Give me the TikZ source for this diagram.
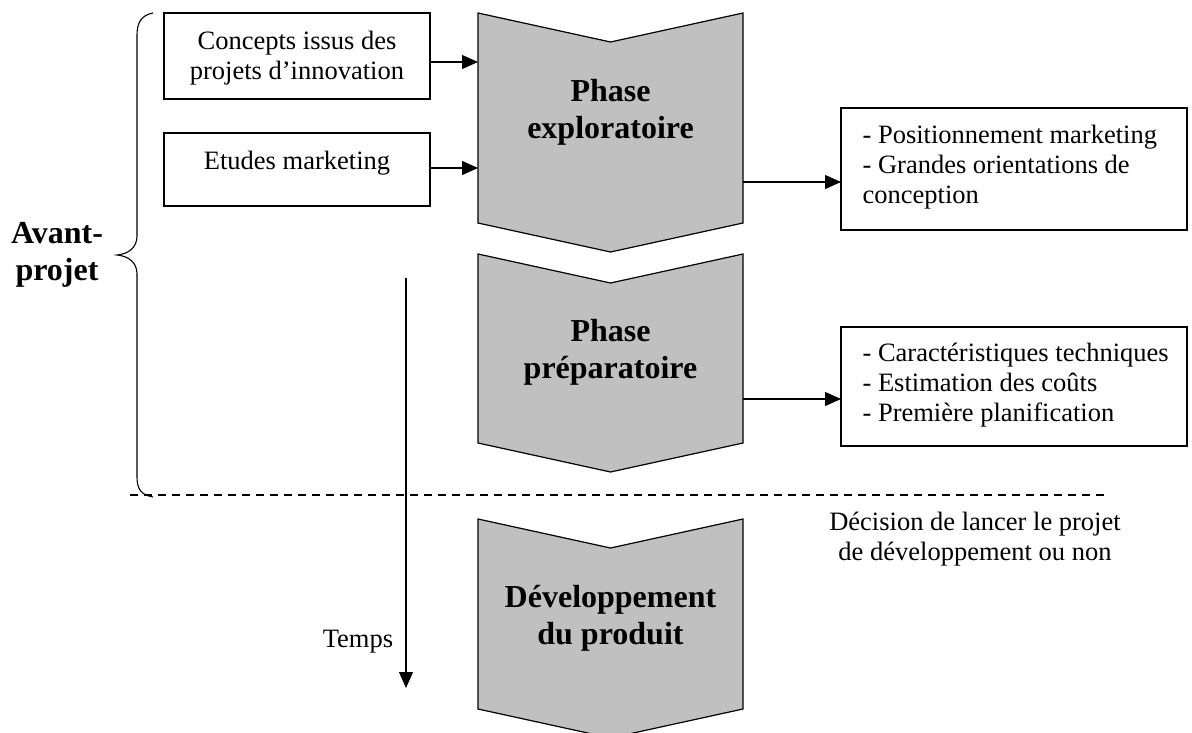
\documentclass[tikz,border=0pt]{standalone}
\usepackage{fontspec}
\setmainfont{Liberation Serif}
\usetikzlibrary{arrows.meta}
\begin{document}
\begin{tikzpicture}[x=1pt,y=-1pt,
  line width=1.2pt,
  txt/.style={font=\fontsize{26.5}{30}\selectfont, inner sep=0pt, align=center},
  btxt/.style={font=\fontsize{32}{37}\selectfont\bfseries, inner sep=0pt, align=center},
  boxn/.style={draw, rectangle, inner sep=0pt, outer sep=0pt},
  chevn/.style={rectangle, inner sep=0pt, outer sep=0pt, minimum width=265pt},
  chevfill/.style={draw, fill=chevgray, line join=miter},
  arr/.style={-{Triangle[length=16pt,width=14pt]}},
  dashln/.style={dash pattern=on 8pt off 6pt}
]
\definecolor{chevgray}{RGB}{192,192,192}
\useasboundingbox (0,0) rectangle (1192,733);

% chevron frames (invisible nodes)
\node[chevn, minimum height=210pt] (chev1) at (610.5,118) {};
\node[chevn, minimum height=189pt] (chev2) at (610.5,348.5) {};
\node[chevn, minimum height=190pt] (chev3) at (610.5,614) {};

\foreach \c in {chev1,chev2,chev3}{
  \draw[chevfill] (\c.north west) -- ([yshift=-29pt]\c.north) -- (\c.north east)
    -- (\c.south east) -- ([yshift=-29pt]\c.south) -- (\c.south west) -- cycle;
}

\node[btxt] (t1) at (610.5,112) {Phase\\exploratoire};
\node[btxt] (t2) at (610.5,352.5) {Phase\\préparatoire};
\node[btxt] (t3) at (610.5,618) {Développement\\du produit};

% input boxes
\node[boxn, minimum width=266pt, minimum height=86pt] (box1) at (297,56) {};
\node[boxn, minimum width=266pt, minimum height=73pt] (box2) at (297,169.5) {};
\node[txt] (box1t) at (297,58) {Concepts issus des\\projets d’innovation};
\node[txt] (box2t) at (297,163) {Etudes marketing};

% output boxes
\node[boxn, minimum width=346pt, minimum height=122pt] (boxA) at (1014,169) {};
\node[boxn, minimum width=346pt, minimum height=119pt] (boxB) at (1014,386.5) {};
\node[txt, align=left, anchor=west] (boxAt) at (862,167) {- Positionnement marketing\\- Grandes orientations de\\conception};
\node[txt, align=left, anchor=west] (boxBt) at (862,385) {- Caractéristiques techniques\\- Estimation des coûts\\- Première planification};

% arrows
\coordinate (y1) at (0,62);
\coordinate (y2) at (0,168);
\coordinate (y3) at (0,182);
\coordinate (y4) at (0,399);
\draw[arr] (box1.east |- y1) -- (chev1.west |- y1);
\draw[arr] (box2.east |- y2) -- (chev1.west |- y2);
\draw[arr] (chev1.east |- y3) -- (boxA.west |- y3);
\draw[arr] (chev2.east |- y4) -- (boxB.west |- y4);

% brace
\coordinate (brtop) at (153,13);
\coordinate (brtip) at (117,255);
\coordinate (brbot) at (153,497);
\draw[line width=1.1pt] (brtop) .. controls (142,15) and (137,22) .. (137,35) -- (137,236)
  .. controls (137,248) and (128,254) .. (brtip)
  .. controls (128,256) and (137,262) .. (137,274) -- (137,477)
  .. controls (137,490) and (142,495) .. (brbot);
\node[btxt] (avant) at (57,255) {Avant-\\projet};

% dashed decision line
\coordinate (dl) at (130,495);
\coordinate (dr) at (1105,495);
\draw[dashln] (dl) -- (dr);
\node[txt] (dec) at (975,539) {Décision de lancer le projet\\de développement ou non};

% time arrow
\coordinate (ts) at (406,278);
\coordinate (te) at (406,688);
\draw[arr, line width=1.1pt] (ts) -- (te);
\node[txt] (temps) at (358,642) {Temps};
\end{tikzpicture}
\end{document}
